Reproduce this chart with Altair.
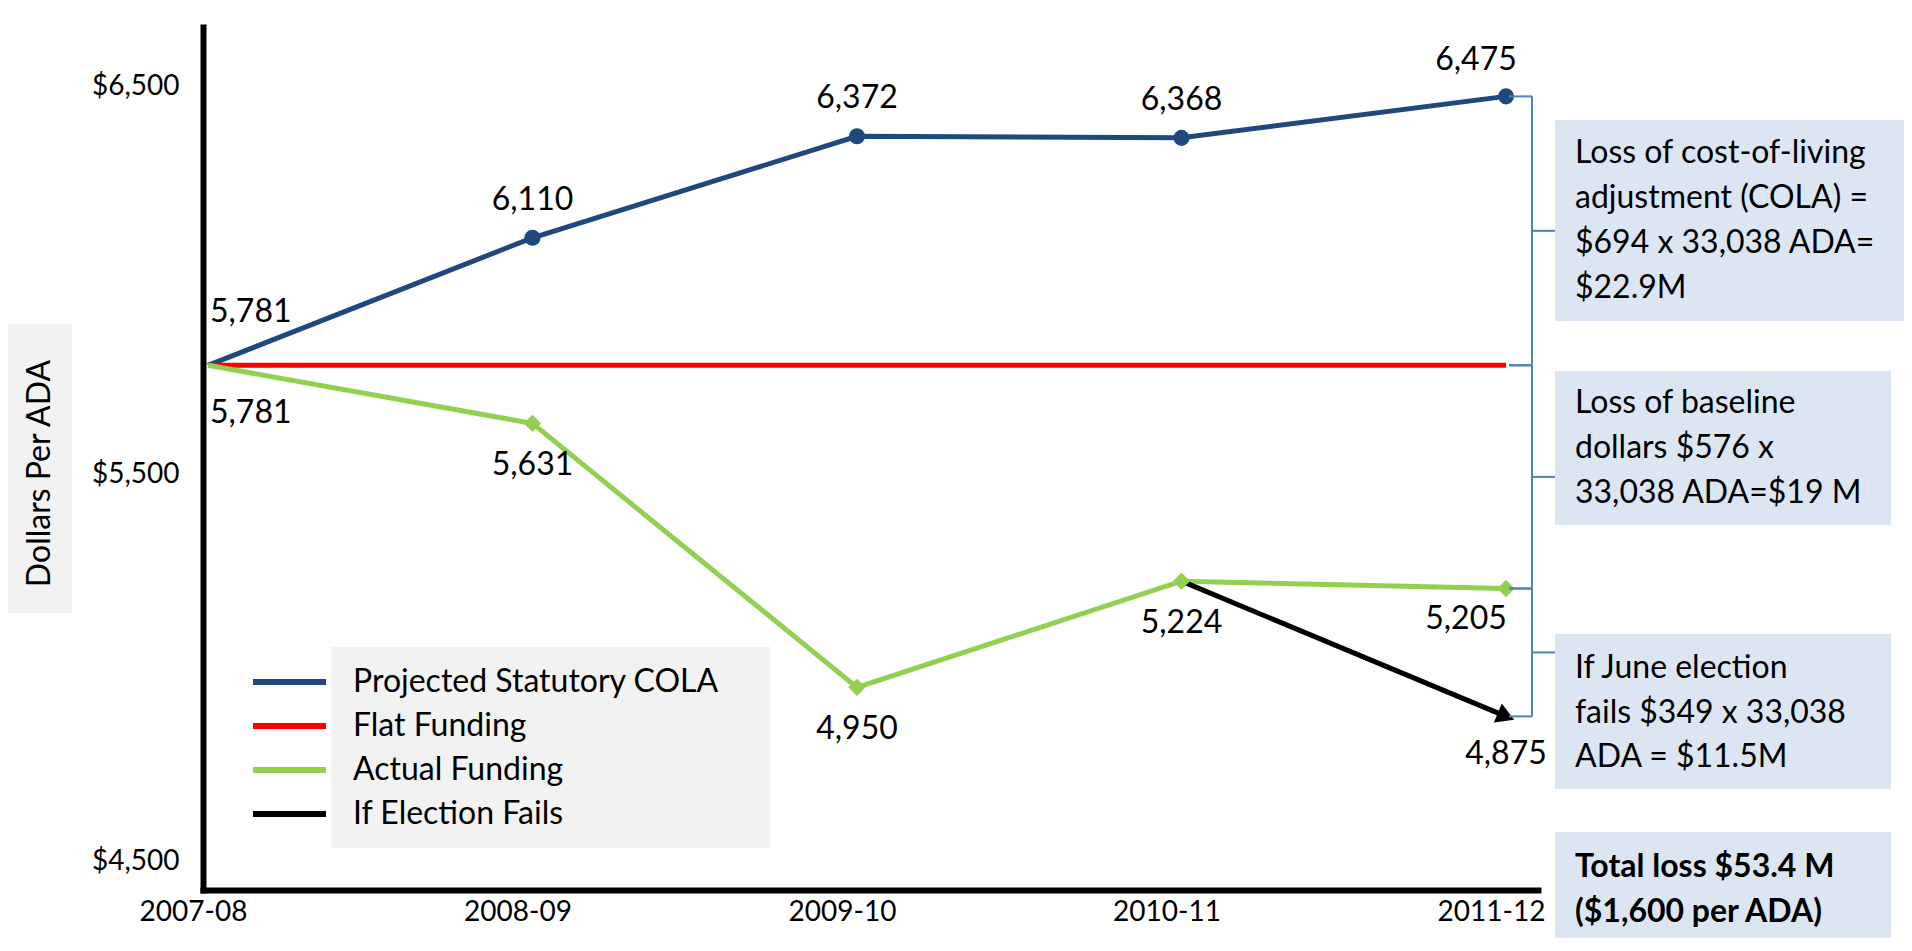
import math
import altair as alt
import pandas as pd

# ---------------- data ----------------
years = ["2007-08", "2008-09", "2009-10", "2010-11", "2011-12"]
projected = [5781, 6110, 6372, 6368, 6475]
flat = [5781, 5781, 5781, 5781, 5781]
actual = [5781, 5631, 4950, 5224, 5205]
election_years = ["2010-11", "2011-12"]
election = [5224, 4875]

series_names = ["Projected Statutory COLA", "Flat Funding", "Actual Funding", "If Election Fails"]
series_colors = ["#1f497d", "#ff0000", "#92d050", "#000000"]
y_ticks = [4500, 5500, 6500]
y_title = "Dollars Per ADA"

box_cola = ["Loss of cost-of-living", "adjustment (COLA) =", "$694 x 33,038 ADA=", "$22.9M"]
box_base = ["Loss of baseline", "dollars $576 x", "33,038 ADA=$19 M"]
box_elec = ["If June election", "fails $349 x 33,038", "ADA = $11.5M"]
box_total = ["Total loss $53.4 M", "($1,600 per ADA)"]

rows = []
for name, yrs, vals in [
    (series_names[0], years, projected),
    (series_names[1], years, flat),
    (series_names[2], years, actual),
    (series_names[3], election_years, election),
]:
    for yr, v in zip(yrs, vals):
        rows.append({"year": yr, "value": v, "series": name, "idx": years.index(yr)})
df = pd.DataFrame(rows)

brace_df = pd.DataFrame({
    "top": [projected[-1], flat[-1], actual[-1]],
    "bottom": [flat[-1], actual[-1], election[-1]],
})
one = pd.DataFrame({"k": [0]})

# ---------------- layout / style ----------------
W, H = 1335, 863
Y_DOMAIN = [4427, 6654]
PAD, ALIGN = 0.057, 0.135
FONT = "Lato"
BOX = "#dce6f2"
GREY = "#f2f2f2"
BRACE = "#4f81bd"

xs = alt.Scale(type="point", domain=years, padding=PAD, align=ALIGN)
ys = alt.Scale(domain=Y_DOMAIN, nice=False, zero=False)
cs = alt.Scale(domain=series_names, range=series_colors)

x_axis = alt.Axis(title=None, labelAngle=0, labelFont=FONT, labelFontSize=28, labelColor="black",
                  ticks=False, tickSize=0, domainColor="black", domainWidth=6, domainCap="square",
                  labelPadding=8, labelOffset=-15, grid=False)
y_axis = alt.Axis(title=y_title, values=y_ticks, format="$,.0f", labelFont=FONT, labelFontSize=28,
                  labelColor="black", ticks=False, tickSize=0, domainColor="black", domainWidth=6,
                  domainCap="square", labelPadding=24, grid=False, titleFont=FONT, titleFontSize=32,
                  titleFontWeight="normal", titleColor="black", titleX=-164, titleY=446,
                  titleAngle=270, titleAlign="center", titleBaseline="middle", zindex=1)
legend = alt.Legend(title=None, orient="none", legendX=47, legendY=633, symbolType="stroke",
                    symbolStrokeWidth=6, symbolSize=5329, clipHeight=44, labelFont=FONT,
                    labelFontSize=32, labelColor="black", labelOffset=24, labelLimit=700,
                    padding=0, rowPadding=0)

X = alt.X("year:O", scale=xs, axis=x_axis, sort=years)
Y = alt.Y("value:Q", scale=ys, axis=y_axis)


def rect(x1, x2, y1, y2, fill):
    return alt.Chart(one).mark_rect(color=fill).encode(
        x=alt.value(x1), x2=alt.value(x2), y=alt.value(y1), y2=alt.value(y2))


def note(lines, x, y, bold=False, lh=45):
    return alt.Chart(one).mark_text(
        align="left", baseline="alphabetic", font=FONT, fontSize=32,
        fontWeight="bold" if bold else "normal", lineHeight=lh, color="black"
    ).encode(x=alt.value(x), y=alt.value(y), text=alt.value(lines))


def labels(series, cond, align, dx, dy):
    return alt.Chart(df).transform_filter(
        (alt.datum.series == series) & cond
    ).mark_text(align=align, baseline="middle", dx=dx, dy=dy, font=FONT, fontSize=32,
                color="black").encode(x=X, y=Y, text=alt.Text("value:Q", format=",.0f"))


lines = alt.Chart(df).mark_line(strokeWidth=5).encode(
    x=X,
    y=Y,
    color=alt.Color("series:N", scale=cs, legend=legend),
    order=alt.Order("idx:Q"),
)

blue_pts = alt.Chart(df).transform_filter(
    (alt.datum.series == series_names[0]) & (alt.datum.idx > 0)
).mark_point(shape="circle", filled=True, size=260, color=series_colors[0], opacity=1).encode(x=X, y=Y)

green_pts = alt.Chart(df).transform_filter(
    (alt.datum.series == series_names[2]) & (alt.datum.idx > 0)
).mark_point(shape="diamond", filled=True, size=300, color=series_colors[2], opacity=1).encode(x=X, y=Y)

step = W / (len(years) - 1 + 2 * PAD)
px_per_dollar = H / (Y_DOMAIN[1] - Y_DOMAIN[0])
angle = math.degrees(math.atan2((election[0] - election[1]) * px_per_dollar, step))
arrow_head = alt.Chart(df).transform_filter(
    (alt.datum.series == series_names[3]) & (alt.datum.idx == len(years) - 1)
).mark_point(shape="triangle-right", filled=True, size=420, angle=round(angle, 1),
             color="black", opacity=1).encode(x=X, y=Y)

lab_layers = [
    labels(series_names[0], alt.datum.idx == 0, "left", 2, -53),
    labels(series_names[0], (alt.datum.idx > 0) & (alt.datum.idx < 4), "center", 0, -38),
    labels(series_names[0], alt.datum.idx == 4, "center", -30, -36),
    labels(series_names[2], alt.datum.idx == 0, "left", 2, 48),
    labels(series_names[2], (alt.datum.idx > 0) & (alt.datum.idx < 4), "center", 0, 42),
    labels(series_names[2], alt.datum.idx == 4, "center", -40, 30),
    labels(series_names[3], alt.datum.idx == 4, "center", 0, 38),
]

BY = alt.Y("top:Q", scale=ys, axis=y_axis)
brace_v = alt.Chart(brace_df).mark_rule(color=BRACE, strokeWidth=2).encode(
    x=alt.value(1329), y=BY, y2=alt.Y2("bottom:Q"))
brace_t = alt.Chart(brace_df).mark_rule(color=BRACE, strokeWidth=2).encode(
    x=alt.value(1306), x2=alt.value(1329), y=BY)
brace_b = alt.Chart(brace_df).mark_rule(color=BRACE, strokeWidth=2).encode(
    x=alt.value(1306), x2=alt.value(1329), y=alt.Y("bottom:Q", scale=ys, axis=y_axis))
brace_m = alt.Chart(brace_df).transform_calculate(mid="(datum.top + datum.bottom) / 2").mark_rule(
    color=BRACE, strokeWidth=2).encode(
    x=alt.value(1329), x2=alt.value(1352), y=alt.Y("mid:Q", scale=ys, axis=y_axis))

chart = alt.layer(
    rect(-196, -131, 297, 586, GREY),
    rect(128, 568, 620, 821, GREY),
    rect(1352, 1704, 93, 294, BOX),
    rect(1352, 1688, 344, 498, BOX),
    rect(1352, 1688, 607, 762, BOX),
    rect(1352, 1688, 805, 915, BOX),
    lines,
    blue_pts,
    green_pts,
    arrow_head,
    *lab_layers,
    brace_v, brace_t, brace_b, brace_m,
    note(box_cola, 1372, 136),
    note(box_base, 1372, 386),
    note(box_elec, 1372, 651, lh=44.5),
    note(box_total, 1372, 850, bold=True),
).properties(
    width=W, height=H,
    autosize=alt.AutoSizeParams(type="none"),
    padding={"left": 195, "top": 19, "right": 366, "bottom": 48},
    background="white",
).configure_view(strokeWidth=0)

chart.save("out.html", embed_options={"renderer": "svg", "actions": False})
